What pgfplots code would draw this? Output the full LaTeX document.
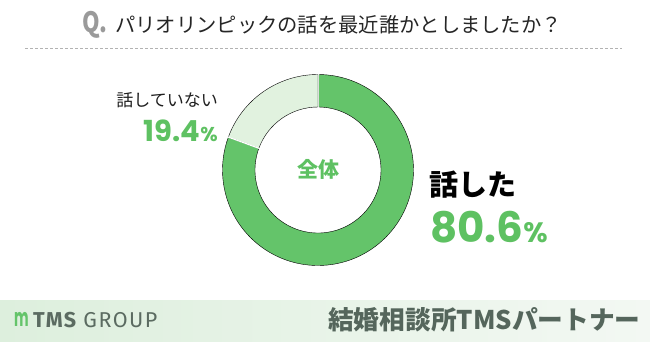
\documentclass[border=0pt]{standalone}
\usepackage{fontspec}
\usepackage{pgfplots}
\usepackage{pgfplotstable}
\pgfplotsset{compat=1.18}
\setmainfont{Noto Sans CJK JP}
\newfontfamily\numfont{Poppins}
\newfontfamily\logofont{Fira Sans}[LetterSpace=7]
\definecolor{dgreen}{HTML}{64C46A}
\definecolor{lgreen}{HTML}{E1F2DF}
\definecolor{tgreen}{HTML}{5EC162}
\definecolor{bandL}{HTML}{DDEFDD}
\definecolor{bandR}{HTML}{F3F8F3}
\definecolor{logotext}{HTML}{5B6B61}
\definecolor{brand}{HTML}{55665C}
\definecolor{qgray}{HTML}{9A9A9A}

% donut data: centre x y, cumulative start (%), share (%), colour index
\pgfplotstableread{
x y start value idx
318 171 0 80.6 0
318 171 80.6 19.4 1
}\donut

\begin{document}
\begin{tikzpicture}
\fill[white] (0,0) rectangle (650pt,341pt);
\begin{axis}[
  at={(0,0)}, anchor=south west,
  width=650pt, height=341pt, scale only axis,
  xmin=0, xmax=650, ymin=0, ymax=341,
  hide axis, clip=false,
]
% bottom band
\shade[left color=bandL, right color=bandR] (axis cs:0,0) rectangle (axis cs:650,41);

% donut
\addplot[scatter, only marks, mark=*, mark size=0pt,
  mark options={draw=none,fill=none},
  point meta=\thisrow{idx},
  visualization depends on={\thisrow{start}\as\sstart},
  visualization depends on={\thisrow{value}\as\sval},
  visualization depends on={\thisrow{idx}\as\sidx},
  scatter/@pre marker code/.code={%
    \pgfmathsetmacro\angS{90-3.6*\sstart}%
    \pgfmathsetmacro\angE{90-3.6*(\sstart+\sval)}%
    \ifdim\sidx pt<0.5pt \def\scol{dgreen}\else\def\scol{lgreen}\fi
    \fill[fill=\scol] (\angS:95.5pt) arc[start angle=\angS,end angle=\angE,radius=95.5pt]
      -- (\angE:63pt) arc[start angle=\angE,end angle=\angS,radius=63pt] -- cycle;
    \draw[white,line width=1.2pt] (\angS:62pt) -- (\angS:97pt);
  },
  scatter/@post marker code/.code={},
] table[x=x,y=y] {\donut};

% title
\node[anchor=west, inner sep=0, text=qgray] at (axis cs:82,316)
  {\scalebox{0.8}[1]{\fontsize{28}{28}\selectfont\bfseries Q.}};
\node[anchor=west, inner sep=0, text=black!85] at (axis cs:115,316)
  {\fontsize{20.3}{20.3}\selectfont パリオリンピックの話を最近誰かとしましたか？};
\draw[black!30, dash pattern=on 3pt off 2pt, line width=0.8pt] (axis cs:25,293) -- (axis cs:622,293);

% centre label
\node[inner sep=0, text=tgreen] at (axis cs:318,172)
  {\fontsize{21}{21}\selectfont\bfseries 全体};

% left label
\node[anchor=east, inner sep=0, text=black!88] at (axis cs:218,241)
  {\fontsize{17}{17}\selectfont 話していない};
\node[anchor=base east, inner sep=0, text=tgreen] at (axis cs:218,200)
  {\numfont\bfseries\fontsize{29}{29}\selectfont 19.4\fontsize{20}{20}\selectfont\%};

% right label
\node[anchor=west, inner sep=0, text=black] at (axis cs:429,156)
  {\fontsize{29}{29}\selectfont\bfseries 話した};
\node[anchor=base west, inner sep=0, text=tgreen] at (axis cs:430,99)
  {\numfont\bfseries\fontsize{42}{42}\selectfont 80.6\fontsize{28}{28}\selectfont\%};

% footer
\node[inner sep=0, text=dgreen] at (axis cs:21.5,22)
  {\scalebox{0.55}[1]{\numfont\bfseries\fontsize{25}{25}\selectfont m}};
\node[anchor=west, inner sep=0, text=logotext] at (axis cs:33,21)
  {\logofont\fontsize{21.5}{21.5}\selectfont{\bfseries TMS} GROUP};
\node[anchor=west, inner sep=0, text=brand] at (axis cs:328,21)
  {\fontsize{25.7}{25.7}\selectfont\bfseries 結婚相談所TMSパートナー};
\end{axis}
\end{tikzpicture}
\end{document}
